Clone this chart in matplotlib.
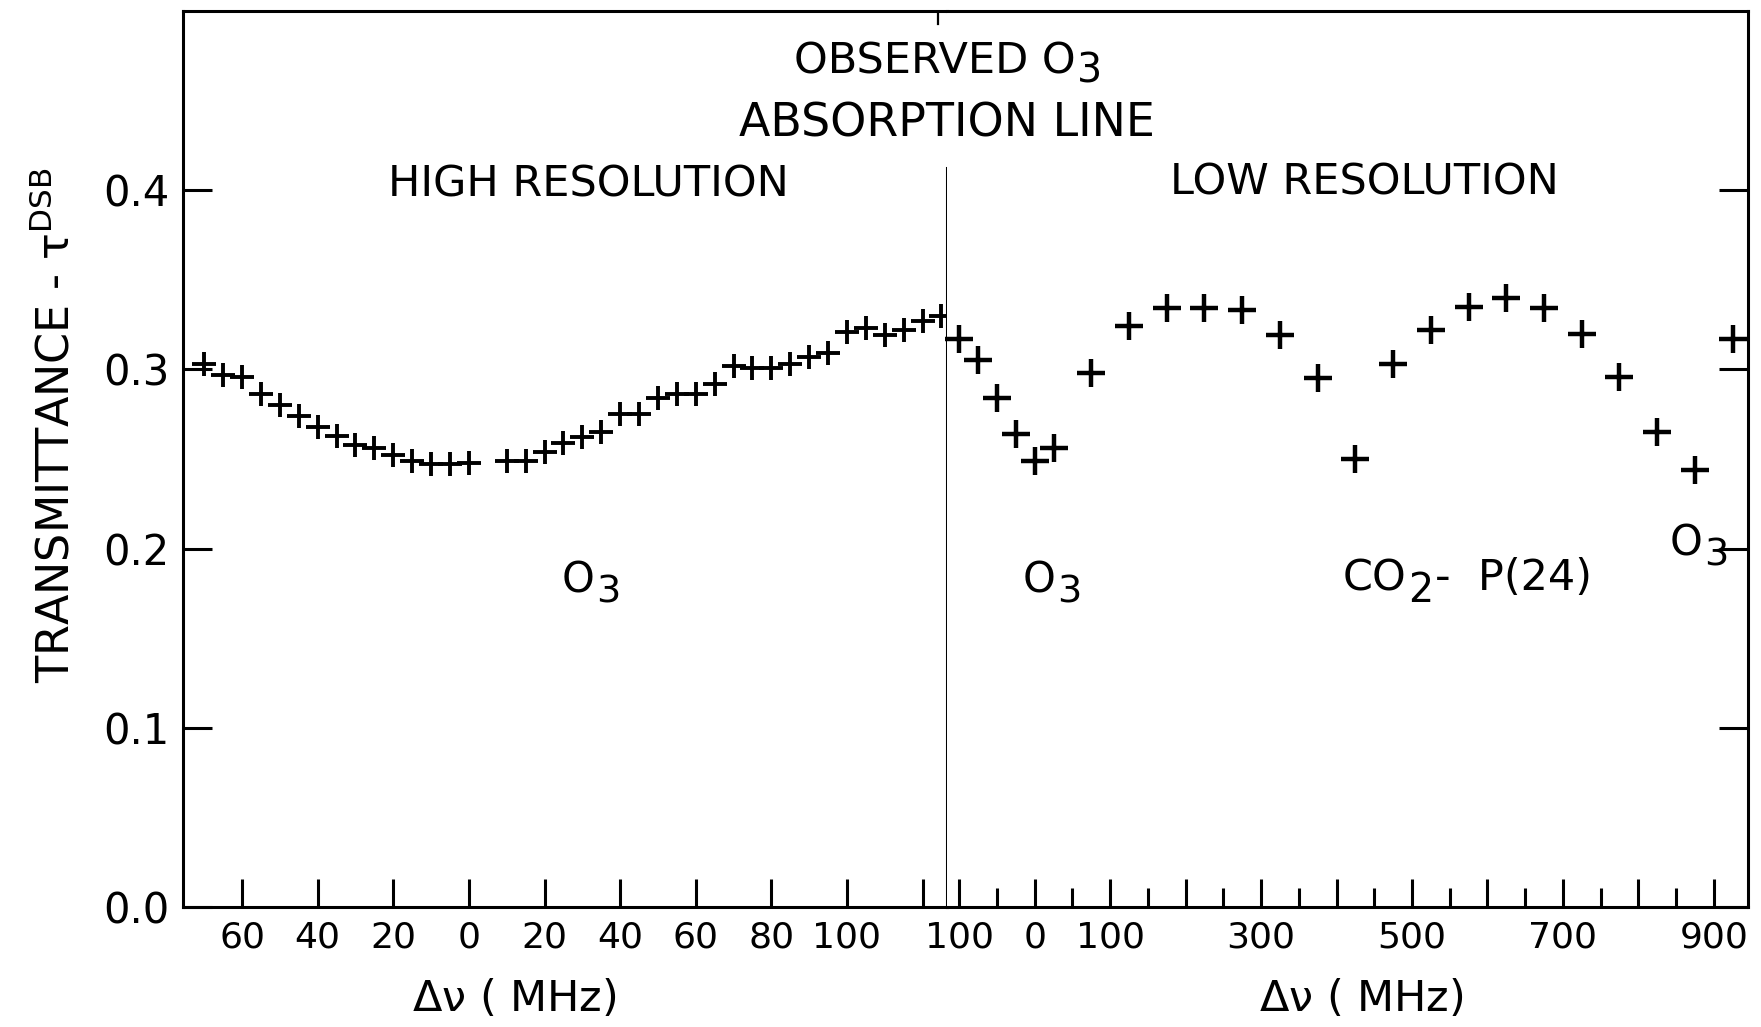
import matplotlib
matplotlib.use("Agg")
import matplotlib.pyplot as plt
from matplotlib.text import Annotation
from matplotlib.ticker import FixedLocator

plt.rcParams['font.family'] = ['DejaVu Sans']
plt.rcParams['mathtext.default'] = 'regular'

# ---- data: high resolution section (MHz offset, transmittance) ----
hi_x = [-70, -65, -60, -55, -50, -45, -40, -35, -30, -25, -20, -15, -10, -5, 0,
        10, 15, 20, 25, 30, 35, 40, 45, 50, 55, 60, 65, 70, 75, 80, 85, 90, 95,
        100, 105, 110, 115, 120, 125]
hi_y = [0.303, 0.297, 0.296, 0.286, 0.280, 0.274, 0.268, 0.263, 0.258, 0.256,
        0.252, 0.249, 0.247, 0.247, 0.248,
        0.249, 0.249, 0.254, 0.259, 0.262, 0.265, 0.275, 0.275, 0.284, 0.286,
        0.286, 0.292, 0.302, 0.301, 0.301, 0.303, 0.307, 0.309, 0.321, 0.323,
        0.319, 0.322, 0.327, 0.330]

# ---- data: low resolution section ----
lo_x = [-100, -75, -50, -25, 0, 25, 75, 125, 175, 225, 275, 325, 375, 425,
        475, 525, 575, 625, 675, 725, 775, 825, 875, 925]
lo_y = [0.317, 0.305, 0.284, 0.264, 0.249, 0.256, 0.298, 0.324, 0.334, 0.334,
        0.333, 0.319, 0.295, 0.250, 0.303, 0.322, 0.335, 0.340, 0.334, 0.320,
        0.296, 0.265, 0.244, 0.317]

# ---- ticks ----
hi_ticks = [-60, -40, -20, 0, 20, 40, 60, 80, 100, 120]
hi_labels = ['60', '40', '20', '0', '20', '40', '60', '80', '100', '']
lo_major = [-100, 0, 100, 200, 300, 400, 500, 600, 700, 800, 900]
lo_labels = ['100', '0', '100', '', '300', '', '500', '', '700', '', '900']
lo_minor = [-50, 50, 150, 250, 350, 450, 550, 650, 750, 850]
y_ticks = [0.0, 0.1, 0.2, 0.3, 0.4]
y_labels = ['0.0', '0.1', '0.2', '0.3', '0.4']

fig = plt.figure(figsize=(17.61, 10.27), dpi=100)
bottom, height = 0.1169, 0.8724
axL = fig.add_axes([0.1042, bottom, 0.4334, height])
axR = fig.add_axes([0.5376, bottom, 0.4550, height])

lw = 2.2
for ax in (axL, axR):
    ax.set_ylim(0, 0.5)
    for s in ax.spines.values():
        s.set_linewidth(lw)
    ax.set_yticks(y_ticks)

axL.set_xlim(-75.5, 126.4)
axR.set_xlim(-116.7, 945.4)

axL.plot(hi_x, hi_y, linestyle='none', marker='+', markersize=17,
         markeredgewidth=2.8, color='black', clip_on=False)
axR.plot(lo_x, lo_y, linestyle='none', marker='+', markersize=20,
         markeredgewidth=3.2, color='black', clip_on=False)

# left axes formatting
axL.spines['right'].set_bounds(0, 0.4125)
axL.spines['right'].set_linewidth(2.2)
axL.set_xticks(hi_ticks)
axL.set_xticklabels(hi_labels)
axL.set_yticklabels(y_labels)
axL.tick_params(axis='x', direction='in', length=20, width=2.2, labelsize=26, pad=10)
axL.tick_params(axis='y', direction='in', length=21, width=2.2, labelsize=30, pad=10,
                left=True, right=False)

# right axes formatting
axR.spines['left'].set_visible(False)
axR.xaxis.set_major_locator(FixedLocator(lo_major))
axR.xaxis.set_minor_locator(FixedLocator(lo_minor))
axR.set_xticklabels(lo_labels)
axR.tick_params(axis='x', which='major', direction='in', length=20, width=2.2,
                labelsize=26, pad=10)
axR.tick_params(axis='x', which='minor', direction='in', length=14, width=2.2)
axR.tick_params(axis='y', direction='in', length=21, width=2.2, left=False,
                right=True, labelleft=False)

# small tick at top near divider
axL.axvline(124, ymin=0.985, ymax=1.0, color='black', linewidth=1.6)


def chem(x, y, main, sub, tail='', size=30, ha='center', dy=-9):
    """Main text followed by a large, lowered subscript (lettering style)."""
    t = fig.text(x, y, main, ha=ha, va='center', fontsize=size)
    a = fig.add_artist(Annotation(
        sub, xy=(1.0, 0.5), xycoords=t, xytext=(1, dy),
        textcoords='offset points', ha='left', va='center',
        fontsize=size * 0.92))
    if tail:
        fig.add_artist(Annotation(
            tail, xy=(1.0, 0.5), xycoords=a, xytext=(1, -dy),
            textcoords='offset points', ha='left', va='center', fontsize=size))
    return t


# titles / annotations
chem(0.531, 0.940, 'OBSERVED O', '3', size=31, dy=-7)
fig.text(0.538, 0.879, 'ABSORPTION LINE', ha='center', va='center', fontsize=33)
fig.text(0.334, 0.820, 'HIGH RESOLUTION', ha='center', va='center', fontsize=31)
fig.text(0.775, 0.822, 'LOW RESOLUTION', ha='center', va='center', fontsize=31)

chem(0.3285, 0.435, 'O', '3', size=30)
chem(0.590, 0.435, 'O', '3', size=30)
chem(0.7625, 0.437, 'CO', '2', tail='-  P(24)', size=31, ha='left')
chem(0.9575, 0.471, 'O', '3', size=30)

fig.text(0.032, 0.586, r'TRANSMITTANCE - $\tau^{DSB}$', rotation=90,
         ha='center', va='center', fontsize=32)
fig.text(0.292, 0.027, r'$\Delta\nu$ ( MHz)', ha='center', va='center', fontsize=31)
fig.text(0.773, 0.027, r'$\Delta\nu$ ( MHz)', ha='center', va='center', fontsize=31)

fig.savefig('out.png', dpi=100, facecolor='white')
